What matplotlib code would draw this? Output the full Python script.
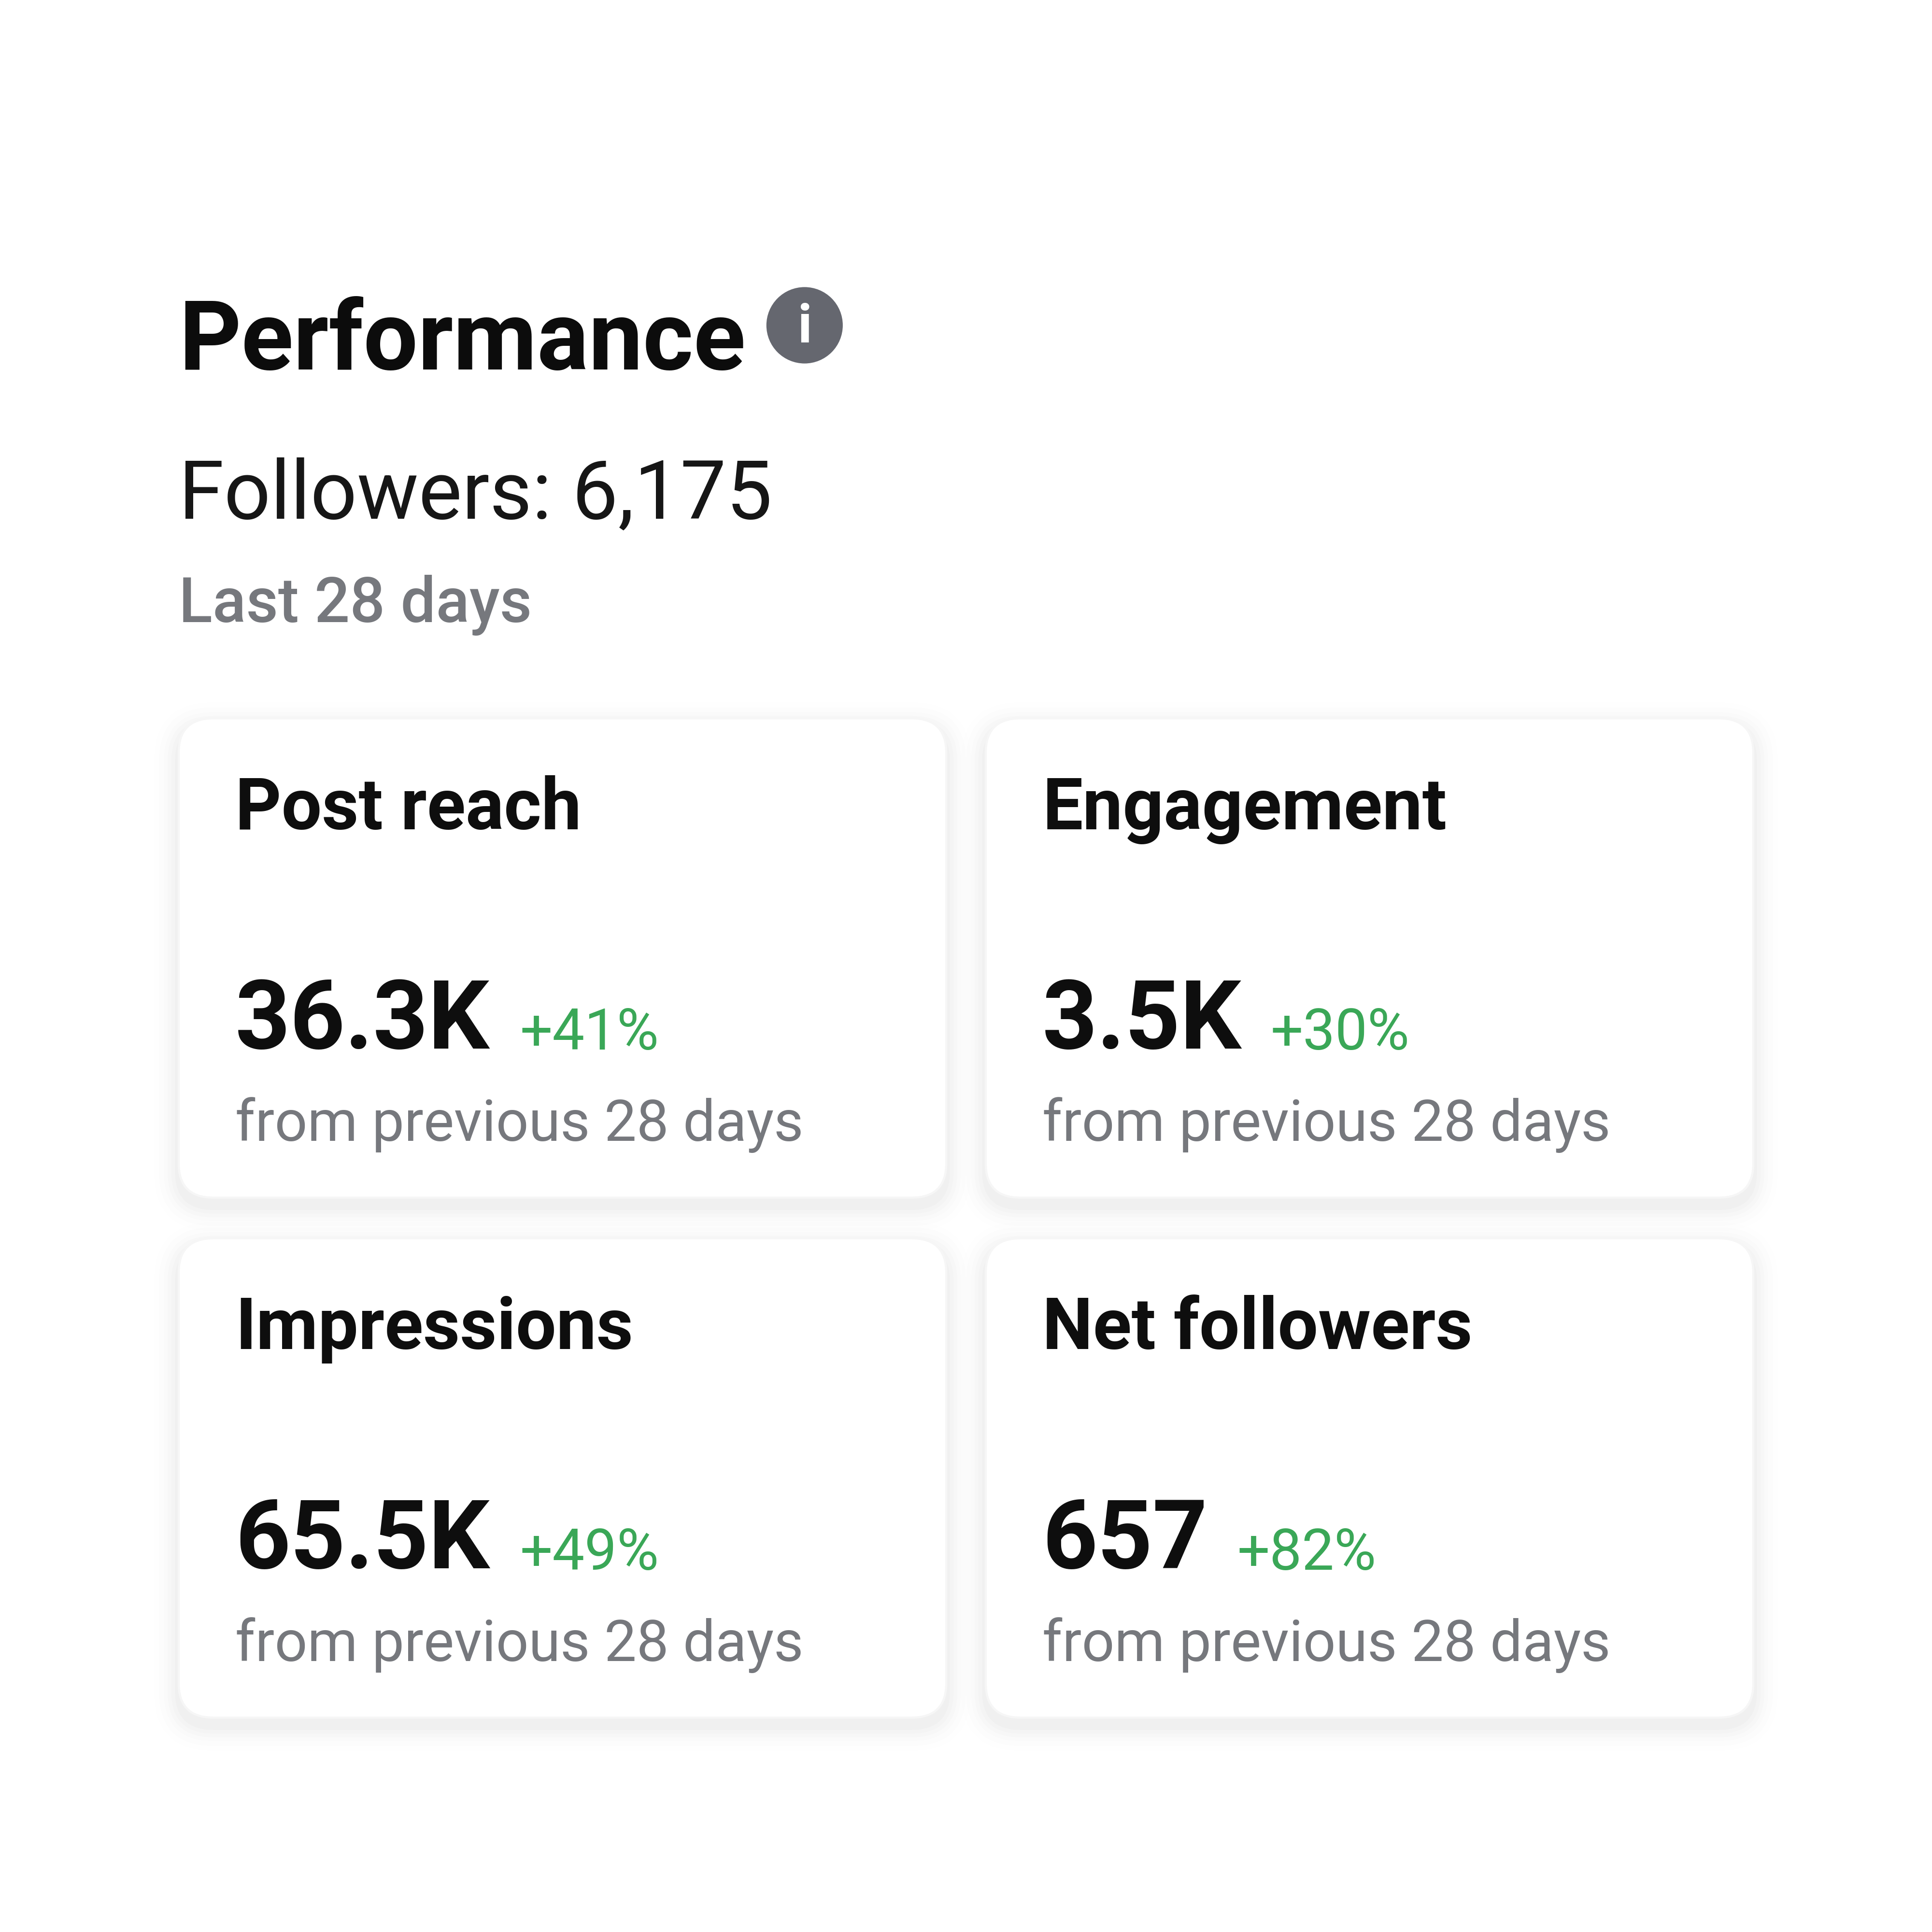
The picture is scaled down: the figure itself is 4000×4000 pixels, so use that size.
import matplotlib
matplotlib.use("Agg")
import matplotlib.pyplot as plt
from matplotlib.patches import FancyBboxPatch, Circle

titles = ["Post reach", "Engagement", "Impressions", "Net followers"]
values = ["36.3K", "3.5K", "65.5K", "657"]
changes = ["+41%", "+30%", "+49%", "+82%"]
change_x = [422, 1031, 422, 1004]
subtitle = "from previous 28 days"
card_x = [145, 800, 145, 800]
card_y = [583, 583, 1005, 1005]
S = 1568
plt.rcParams['font.family'] = ['Roboto', 'DejaVu Sans']

fig = plt.figure(figsize=(10, 10), dpi=400, facecolor='white')
ax = fig.add_axes([0, 0, 1, 1])
ax.set_xlim(0, S); ax.set_ylim(S, 0); ax.axis('off')

def T(x, y, s, size, color, weight='normal', **kw):
    ax.text(x, y, s, fontsize=size, color=color, fontweight=weight, va='baseline', ha=kw.pop('ha', 'left'), **kw)

T(145, 300, "Performance", 36, '#0c0c0c', 'bold')
ax.add_patch(Circle((653, 264), 31, fc='#65676f', ec='none'))
T(653, 278, "i", 20, 'white', 'bold', ha='center')
T(145, 421, "Followers: 6,175", 30.5, '#161616')
T(145, 505, "Last 28 days", 23.2, '#76787d', 'medium')

for i in range(4):
    x, y = card_x[i], card_y[i]
    w, h = 623, 389
    for g, a in zip([20, 16, 12, 9, 6, 3], [0.005, 0.007, 0.009, 0.011, 0.013, 0.015]):
        ax.add_patch(FancyBboxPatch((x - g, y + 7 - g), w + 2 * g, h + 2 * g,
                                    boxstyle=f"round,pad=0,rounding_size={28 + g}",
                                    fc='black', ec='none', alpha=a))
    ax.add_patch(FancyBboxPatch((x, y), w, h, boxstyle="round,pad=0,rounding_size=28",
                                fc='white', ec='#f6f6f6', lw=0.8))
    T(x + 46, y + 90, titles[i], 26.7, '#0e0e0e', 'bold')
    T(x + 46, y + 268, values[i], 35.8, '#0e0e0e', 'bold')
    T(change_x[i], y + 269, changes[i], 21.4, '#3aa757')
    T(x + 46, y + 343, subtitle, 21.4, '#76787d')

fig.savefig('out.png', dpi=400, facecolor='white')
